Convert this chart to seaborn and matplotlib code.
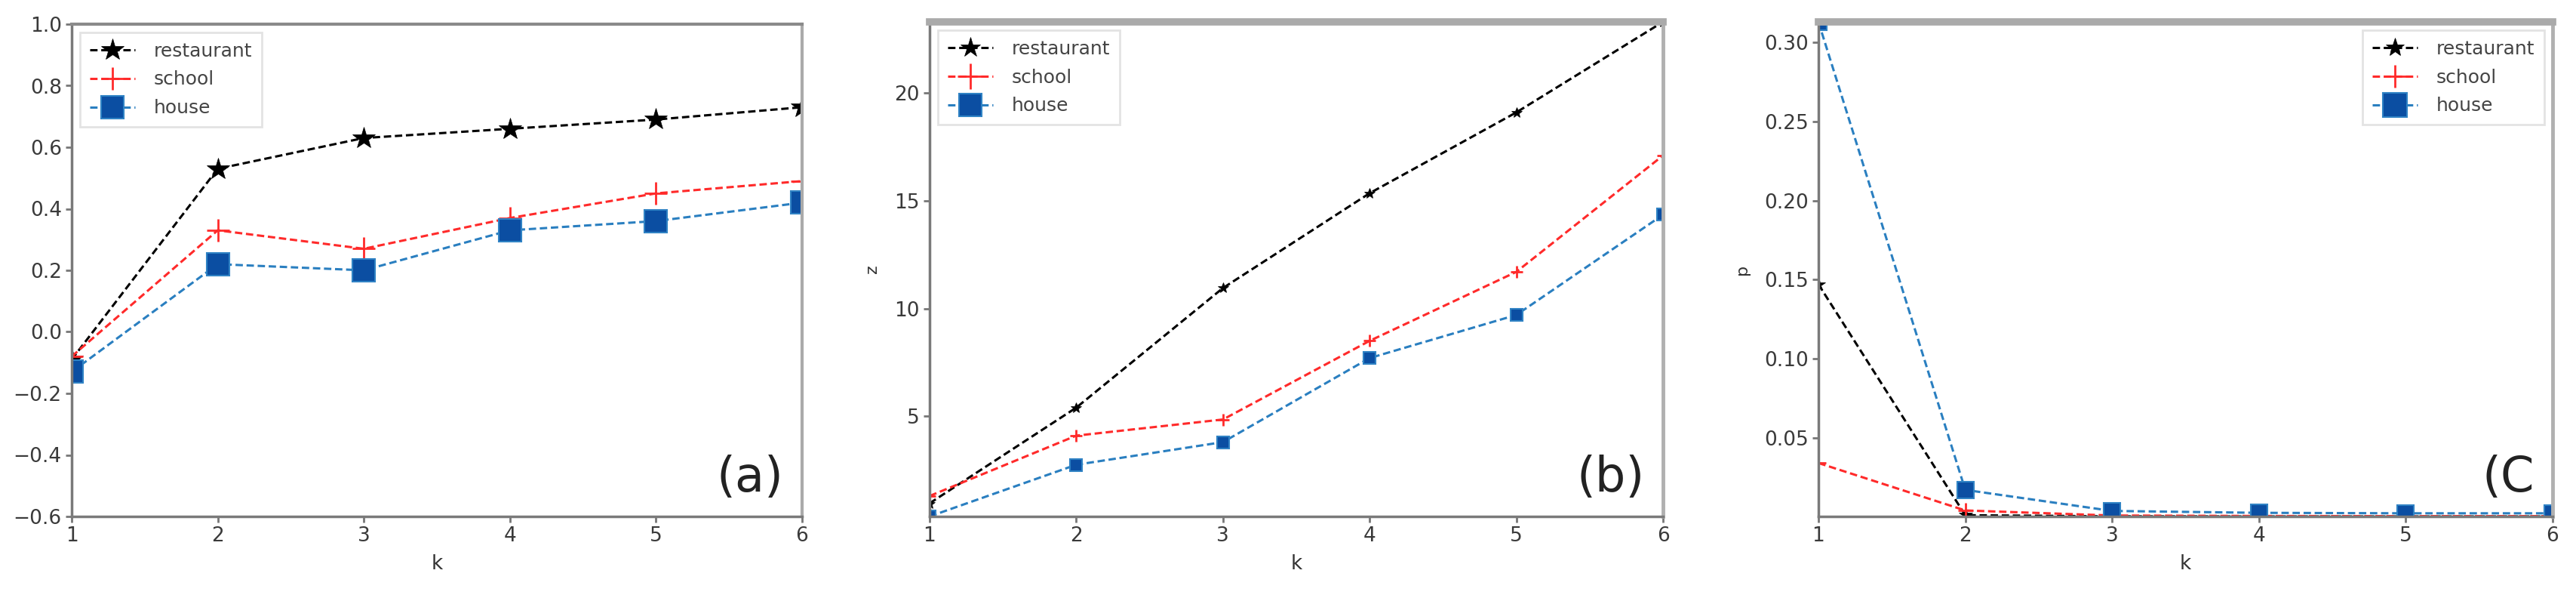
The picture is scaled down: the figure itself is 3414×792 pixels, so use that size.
import numpy as np
import pandas as pd
import matplotlib
matplotlib.use("Agg")
import matplotlib.pyplot as plt
import seaborn as sns

# k values shared by the three panels
k = [1, 2, 3, 4, 5, 6]

# panel (a)
a_restaurant = [-0.09, 0.53, 0.63, 0.66, 0.69, 0.73]
a_school = [-0.08, 0.33, 0.27, 0.37, 0.45, 0.49]
a_house = [-0.13, 0.22, 0.20, 0.33, 0.36, 0.42]

# panel (b), z
b_restaurant = [0.96, 5.4, 10.95, 15.35, 19.1, 23.3]
b_school = [1.3, 4.1, 4.85, 8.5, 11.7, 17.1]
b_house = [0.35, 2.75, 3.8, 7.7, 9.7, 14.35]

# panel (c), p
c_restaurant = [0.147, 0.001, 0.0003, 0.0002, 0.0002, 0.0002]
c_school = [0.034, 0.004, 0.0008, 0.0005, 0.0004, 0.0004]
c_house = [0.313, 0.017, 0.0037, 0.0025, 0.0022, 0.0022]

labels = ["restaurant", "school", "house"]
panel_tags = ["(a)", "(b)", "(C"]
y_labels = ["", "z", "p"]

sns.set_theme(style="white")
plt.rcParams["font.family"] = ["DejaVu Sans"]

fig = plt.figure(figsize=(34.14, 7.92), dpi=100)

positions = [
    [95 / 3414, 108 / 792, 968 / 3414, 652 / 792],
    [1232 / 3414, 108 / 792, 972 / 3414, 655 / 792],
    [2410 / 3414, 108 / 792, 973 / 3414, 655 / 792],
]

panels = [
    (a_restaurant, a_school, a_house),
    (b_restaurant, b_school, b_house),
    (c_restaurant, c_school, c_house),
]

# marker sizes per panel: (star, plus, square)
msizes = [(22, 22, 21), (10, 12, 11), (13, 15, 16)]
legend_scale = [1.0, 2.0, 1.4]
legend_loc = ["upper left", "upper left", "upper right"]
dash = (0, (3.2, 1.6))

for i, (pos, data) in enumerate(zip(positions, panels)):
    ax = fig.add_axes(pos)
    rest, school, house = data
    ms_star, ms_plus, ms_sq = msizes[i]

    sns.lineplot(x=k, y=rest, ax=ax, color="black", linestyle=dash, lw=2.2,
                 marker="*", markersize=ms_star, markeredgecolor="black",
                 markeredgewidth=0.5, label=labels[0])
    sns.lineplot(x=k, y=school, ax=ax, color="#ff2a2a", linestyle=dash, lw=2.2,
                 marker="+", markersize=ms_plus, markeredgecolor="#ff2a2a",
                 markeredgewidth=2, label=labels[1])
    sns.lineplot(x=k, y=house, ax=ax, color="#2a7fc0", linestyle=dash, lw=2.2,
                 marker="s", markersize=ms_sq, markerfacecolor="#0b4ea2",
                 markeredgecolor="#2f82c4", markeredgewidth=1.5,
                 label=labels[2])

    ax.set_xlim(1, 6)
    if i == 0:
        ax.set_ylim(-0.6, 1.0)
        ax.set_yticks(np.arange(-0.6, 1.01, 0.2))
    else:
        ax.set_ylim(min(min(rest), min(school), min(house)),
                    max(max(rest), max(school), max(house)))
    ax.set_xticks(k)

    ax.set_xlabel("k", fontsize=19, color="#333333", labelpad=8)
    ax.set_ylabel(y_labels[i], fontsize=16, color="#333333", labelpad=14)
    ax.tick_params(axis="both", which="major", labelsize=19, labelcolor="#3a3a3a",
                   direction="out", length=6, width=2, color="#777777",
                   bottom=True, left=True, top=False, right=False)

    for side in ["left", "bottom", "right"]:
        ax.spines[side].set_color("#7a7a7a")
        ax.spines[side].set_linewidth(2.5)
    if i == 0:
        ax.spines["top"].set_color("#8a8a8a")
        ax.spines["top"].set_linewidth(3)
        ax.spines["right"].set_color("#aaaaaa")
        ax.spines["right"].set_linewidth(3)
    else:
        ax.spines["top"].set_color("#aaaaaa")
        ax.spines["top"].set_linewidth(7)
        ax.spines["right"].set_color("#b0b0b0")
        ax.spines["right"].set_linewidth(3.5)

    leg = ax.legend(loc=legend_loc[i], fontsize=18, frameon=True, fancybox=False,
                    handlelength=2.4, handletextpad=1.0, labelspacing=0.55,
                    borderpad=0.5, markerscale=legend_scale[i],
                    borderaxespad=0.45)
    leg.get_frame().set_edgecolor("#dcdcdc")
    leg.get_frame().set_linewidth(2)
    for t in leg.get_texts():
        t.set_color("#444444")

    ax.text(0.975, 0.03, panel_tags[i], transform=ax.transAxes, ha="right",
            va="bottom", fontsize=46, color="#222222")

fig.savefig("out.png", dpi=100)
